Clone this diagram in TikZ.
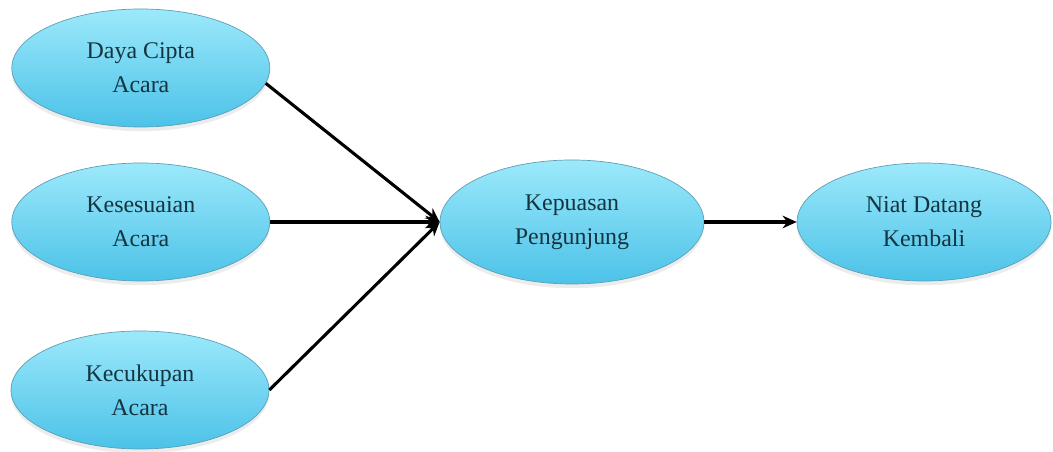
\documentclass[tikz,border=0pt]{standalone}
\usepackage{fontspec}
\setmainfont{Liberation Serif}
\usetikzlibrary{shapes.geometric,arrows.meta,shadows}

\definecolor{ellTop}{HTML}{9CE9FB}
\definecolor{ellBot}{HTML}{4CC2E8}
\definecolor{ellLine}{HTML}{5C9FB6}
\definecolor{ellText}{HTML}{143440}

\begin{document}
\begin{tikzpicture}[
  var/.style={ellipse, draw=ellLine, line width=0.5pt, top color=ellTop, bottom color=ellBot,
    minimum width=6.45cm, minimum height=2.95cm, inner sep=0pt, align=center,
    text=ellText, font=\fontsize{17}{24}\selectfont,
    drop shadow={opacity=0.15, shadow xshift=0pt, shadow yshift=-3pt}},
  link/.style={line width=2.2pt, -{Stealth[length=10pt,width=9pt]}}
]
\useasboundingbox (0,0) rectangle (26.325,11.3);
\node[var] (daya) at (3.52,9.6) {Daya Cipta\\Acara};
\node[var] (sesuai) at (3.52,5.75) {Kesesuaian\\Acara};
\node[var] (cukup) at (3.5,1.55) {Kecukupan\\Acara};
\node[var, minimum width=6.6cm, minimum height=3.1cm] (puas) at (14.3,5.75) {Kepuasan\\Pengunjung};
\node[var, minimum width=6.35cm] (niat) at (23.1,5.75) {Niat Datang\\Kembali};
\draw[link] (daya.-7) -- (puas.west);
\draw[link] (sesuai.east) -- (puas.west);
\draw[link] (cukup.east) -- (puas.west);
\draw[link] (puas) -- (niat);
\end{tikzpicture}
\end{document}
